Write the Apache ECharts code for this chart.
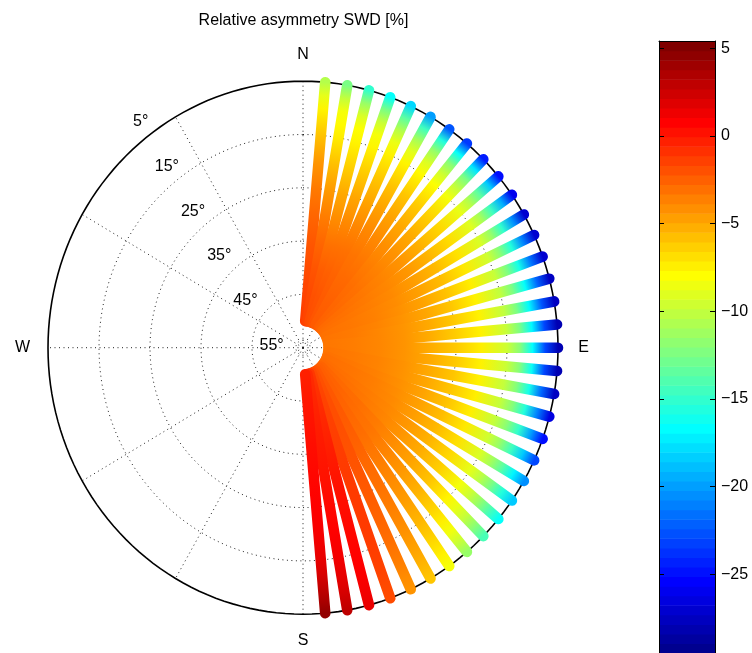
<!DOCTYPE html>
<html>
<head>
<meta charset="utf-8">
<script src="https://cdn.jsdelivr.net/npm/echarts@6/dist/echarts.min.js"></script>
<style>
html,body{margin:0;padding:0;background:#fff;}
#chart{width:752px;height:653px;}
</style>
</head>
<body>
<div id="chart"></div>
<script>
// ---------------- data ----------------
const AZIMUTHS = [5,10,15,20,25,30,35,40,45,50,55,60,65,70,75,80,85,90,95,100,105,110,115,120,125,130,135,140,145,150,155,160,165,170,175];
const ELEVATIONS = [5,7.5,10,12.5,15,20,25,30,35,40,45,50];
// one row per azimuth, one value per elevation (%)
const ASYMMETRY = [
  [-10.5,-8.8,-7.6,-6.7,-5.9,-4.4,-3.4,-2.7,-2.2,-1.8,-1.5,-1.3],
  [-12.5,-10.0,-8.3,-7.8,-7.3,-5.8,-4.5,-3.5,-2.7,-2.1,-1.7,-1.5],
  [-15.0,-11.5,-9.2,-8.0,-7.6,-6.3,-5.0,-4.0,-3.1,-2.4,-2.0,-1.8],
  [-16.5,-12.5,-9.8,-8.3,-7.6,-6.2,-4.9,-3.9,-3.1,-2.5,-2.1,-1.9],
  [-18.0,-13.5,-10.5,-8.6,-7.5,-6.0,-4.8,-3.8,-3.1,-2.6,-2.3,-2.1],
  [-20.0,-14.5,-11.0,-8.9,-7.6,-5.9,-4.7,-3.8,-3.2,-2.8,-2.5,-2.3],
  [-22.5,-15.5,-11.5,-9.2,-7.8,-6.0,-4.8,-3.9,-3.3,-2.8,-2.5,-2.3],
  [-23.5,-16.5,-12.0,-9.6,-8.0,-6.2,-5.0,-4.1,-3.5,-3.0,-2.7,-2.5],
  [-24.5,-17.5,-12.5,-10.0,-8.3,-6.4,-5.1,-4.2,-3.6,-3.1,-2.8,-2.6],
  [-25.0,-18.5,-13.5,-10.5,-8.7,-6.6,-5.3,-4.3,-3.7,-3.3,-3.0,-2.8],
  [-26.0,-19.5,-14.5,-11.0,-9.0,-6.8,-5.4,-4.4,-3.8,-3.4,-3.1,-2.9],
  [-27.0,-20.5,-15.0,-11.5,-9.3,-7.0,-5.6,-4.6,-3.9,-3.5,-3.2,-3.0],
  [-27.0,-21.0,-15.5,-12.0,-9.6,-7.2,-5.7,-4.7,-4.0,-3.6,-3.3,-3.1],
  [-27.0,-21.5,-16.0,-12.3,-9.9,-7.4,-5.9,-4.8,-4.1,-3.6,-3.3,-3.1],
  [-27.5,-22.0,-16.5,-12.5,-10.1,-7.5,-6.0,-4.9,-4.2,-3.7,-3.4,-3.2],
  [-27.5,-22.5,-16.8,-12.5,-10.1,-7.5,-6.1,-5.0,-4.3,-3.8,-3.4,-3.2],
  [-28.0,-23.0,-16.8,-12.3,-9.9,-7.5,-6.2,-5.1,-4.3,-3.8,-3.5,-3.3],
  [-28.0,-23.0,-16.6,-12.0,-9.7,-7.4,-6.1,-5.1,-4.3,-3.8,-3.5,-3.3],
  [-28.0,-23.0,-16.4,-12.0,-9.8,-7.5,-6.1,-5.0,-4.3,-3.8,-3.5,-3.3],
  [-27.5,-22.0,-16.0,-12.2,-10.0,-7.5,-6.0,-5.0,-4.2,-3.7,-3.4,-3.2],
  [-26.5,-21.0,-15.5,-12.1,-10.0,-7.4,-6.0,-4.9,-4.2,-3.7,-3.4,-3.2],
  [-25.0,-20.0,-15.0,-12.0,-10.0,-7.4,-5.9,-4.8,-4.1,-3.6,-3.3,-3.1],
  [-23.0,-18.5,-14.5,-11.5,-9.6,-7.2,-5.7,-4.7,-4.0,-3.5,-3.2,-3.0],
  [-20.5,-17.0,-13.5,-11.0,-9.2,-6.9,-5.5,-4.6,-3.9,-3.5,-3.2,-3.0],
  [-18.5,-15.5,-12.5,-10.3,-8.8,-6.6,-5.3,-4.4,-3.8,-3.4,-3.1,-2.9],
  [-16.5,-14.0,-11.5,-9.6,-8.3,-6.3,-5.1,-4.3,-3.7,-3.3,-3.0,-2.8],
  [-14.2,-12.0,-10.0,-8.7,-7.6,-5.9,-4.8,-4.0,-3.4,-3.0,-2.8,-2.6],
  [-11.5,-9.8,-8.4,-7.4,-6.6,-5.3,-4.4,-3.7,-3.2,-2.9,-2.6,-2.5],
  [-8.3,-7.5,-6.8,-6.1,-5.5,-4.6,-3.9,-3.4,-3.0,-2.7,-2.5,-2.4],
  [-6.0,-5.5,-5.0,-4.6,-4.2,-3.6,-3.1,-2.8,-2.5,-2.3,-2.2,-2.2],
  [-4.3,-4.0,-3.6,-3.3,-3.0,-2.6,-2.3,-2.1,-2.0,-1.9,-1.9,-2.0],
  [-1.8,-1.7,-1.5,-1.4,-1.3,-1.2,-1.2,-1.2,-1.3,-1.4,-1.5,-1.7],
  [1.5,1.2,1.0,0.8,0.7,0.5,0.3,0.1,-0.2,-0.5,-0.8,-1.1],
  [3.0,2.4,1.8,1.5,1.2,0.8,0.5,0.2,0.0,-0.2,-0.5,-0.7],
  [4.5,3.6,2.8,2.1,1.6,1.1,0.8,0.6,0.4,0.2,0.0,-0.3]
];
const COLORBAR_TICKS = [5,0,-5,-10,-15,-20,-25];
const RING_ELEVATIONS = [5,15,25,35,45,55];
const GRID_RINGS = [0.2,0.4,0.6,0.8];
const GRID_SPOKES = [0,30,60,90,120,150,180,210,240,270,300,330];
const COMPASS_LABELS = ['N','E','S','W'];
const COMPASS_AZIMUTHS = [0,90,180,270];
const TITLE = 'Relative asymmetry SWD [%]';
const CMIN = -29.5, CMAX = 5.42;
const EL_OUTER = 5, EL_CENTER = 55;

// ---------------- helpers ----------------
const FONT = '16px "Liberation Sans", Arial, Helvetica, sans-serif';
function clamp(v,a,b){return Math.max(a,Math.min(b,v));}
function rNorm(el){return (EL_CENTER-el)/(EL_CENTER-EL_OUTER);}
function toXY(az,r){const a=az*Math.PI/180;return [r*Math.sin(a), r*Math.cos(a)];}
// MATLAB jet(64) evaluated at (possibly fractional) index i in 1..64
function jetAt(i){
  const R = i<=56 ? clamp((i-24)/16,0,1) : clamp(1-(i-56)/16,0.5,1);
  const G = i<=40 ? clamp((i-8)/16,0,1) : clamp(1-(i-40)/16,0,1);
  const B = i<=8 ? clamp(0.5+i/16,0.5,1) : clamp(1-(i-24)/16,0,1);
  return 'rgb('+Math.round(R*255)+','+Math.round(G*255)+','+Math.round(B*255)+')';
}
function colorOf(v){
  const t=(v-CMIN)/(CMAX-CMIN);
  return jetAt(clamp(t*64+0.5,1,64));
}
function fmtTick(v){return v<0?'\u2212'+Math.abs(v):String(v);}

const dotted = {stroke:'#222', lineWidth:1, lineDash:[1,3.5], fill:null};

function ellipsePoints(api,r){
  const pts=[];
  for(let d=0; d<=360; d+=2){pts.push(api.coord(toXY(d,r)));}
  return pts;
}

const chart = echarts.init(document.getElementById('chart'), null, {renderer:'canvas'});
const option = {
  animation:false,
  backgroundColor:'#fff',
  graphic:[{
    type:'text', x:303.5, y:21, z:10,
    style:{text:TITLE, font:FONT, fill:'#000', textAlign:'center', textVerticalAlign:'middle'}
  }],
  grid:[
    {left:48, top:81.2, width:510, height:533, show:false},
    {left:659, top:41, width:56, height:(CMAX-CMIN)*17.533, show:false}
  ],
  xAxis:[
    {gridIndex:0, type:'value', min:-1, max:1, show:false},
    {gridIndex:1, type:'value', min:0, max:1, position:'top', z:5,
     axisLine:{show:true, onZero:false, lineStyle:{color:'#000', width:1}},
     axisTick:{show:false}, axisLabel:{show:false}, splitLine:{show:false}}
  ],
  yAxis:[
    {gridIndex:0, type:'value', min:-1, max:1, show:false},
    {gridIndex:1, type:'value', min:CMIN, max:CMAX, position:'right', z:5,
     axisLine:{show:true, onZero:false, lineStyle:{color:'#000', width:1}},
     axisTick:{show:true, inside:true, length:5, lineStyle:{color:'#000'}, customValues:COLORBAR_TICKS},
     axisLabel:{show:true, customValues:COLORBAR_TICKS, formatter:fmtTick, color:'#000',
       fontSize:16, fontFamily:'"Liberation Sans", Arial, sans-serif', margin:6},
     splitLine:{show:false}},
    {gridIndex:1, type:'value', min:CMIN, max:CMAX, position:'left', z:5,
     axisLine:{show:true, onZero:false, lineStyle:{color:'#000', width:1}},
     axisTick:{show:true, inside:true, length:5, lineStyle:{color:'#000'}, customValues:COLORBAR_TICKS},
     axisLabel:{show:false}, splitLine:{show:false}}
  ],
  series:[
    // dotted rings
    {type:'custom', xAxisIndex:0, yAxisIndex:0, z:1, silent:true, clip:false,
     data:GRID_RINGS.concat([0.028]).map(r=>[r]),
     renderItem:function(params,api){
       return {type:'polyline', shape:{points:ellipsePoints(api, api.value(0))}, style:dotted};
     }},
    // dotted spokes
    {type:'custom', xAxisIndex:0, yAxisIndex:0, z:1, silent:true, clip:false,
     data:GRID_SPOKES.map(a=>[a]),
     renderItem:function(params,api){
       const p0=api.coord([0,0]), p1=api.coord(toXY(api.value(0),1));
       return {type:'line', shape:{x1:p0[0],y1:p0[1],x2:p1[0],y2:p1[1]}, style:dotted};
     }},
    // outer circle
    {type:'custom', xAxisIndex:0, yAxisIndex:0, z:2, silent:true, clip:false,
     data:[[1]],
     renderItem:function(params,api){
       return {type:'polyline', shape:{points:ellipsePoints(api, api.value(0))},
               style:{stroke:'#000', lineWidth:1.6, fill:null}};
     }},
    // data spokes
    {type:'custom', xAxisIndex:0, yAxisIndex:0, z:3, silent:true, clip:false,
     data:AZIMUTHS.map((az,i)=>[az,i]),
     renderItem:function(params,api){
       const az=api.value(0), row=ASYMMETRY[api.value(1)];
       const rs=ELEVATIONS.map(rNorm);
       const rMin=Math.min.apply(null,rs), rMax=Math.max.apply(null,rs);
       const pIn=api.coord(toXY(az,rMin)), pOut=api.coord(toXY(az,rMax));
       const stops=ELEVATIONS.map((el,k)=>({offset:(rs[k]-rMin)/(rMax-rMin), color:colorOf(row[k])}))
         .sort((a,b)=>a.offset-b.offset);
       return {type:'line', shape:{x1:pIn[0],y1:pIn[1],x2:pOut[0],y2:pOut[1]},
         style:{stroke:{type:'linear', x:pIn[0], y:pIn[1], x2:pOut[0], y2:pOut[1], global:true, colorStops:stops},
                lineWidth:10.6, lineCap:'round'}};
     }},
    // compass labels
    {type:'custom', xAxisIndex:0, yAxisIndex:0, z:4, silent:true, clip:false,
     data:COMPASS_AZIMUTHS.map((a,i)=>[a,i]),
     renderItem:function(params,api){
       const p=api.coord(toXY(api.value(0),1.1));
       return {type:'text', x:p[0], y:p[1],
         style:{text:COMPASS_LABELS[api.value(1)], font:FONT, fill:'#000', align:'center', verticalAlign:'middle'}};
     }},
    // ring labels
    {type:'custom', xAxisIndex:0, yAxisIndex:0, z:4, silent:true, clip:false,
     data:RING_ELEVATIONS.map(e=>[e]),
     renderItem:function(params,api){
       const el=api.value(0), r=rNorm(el);
       const q=toXY(-31.5, r*0.983);
       const p=api.coord([q[0]-0.123, q[1]+0.0097]);
       return {type:'text', x:p[0], y:p[1],
         style:{text:el+'\u00b0', font:FONT, fill:'#000', align:'center', verticalAlign:'middle'}};
     }},
    // colorbar bands
    {type:'custom', xAxisIndex:1, yAxisIndex:1, z:2, silent:true, clip:false,
     data:Array.from({length:64},(_,k)=>[k]),
     renderItem:function(params,api){
       const k=api.value(0), d=(CMAX-CMIN)/64;
       const pTop=api.coord([0,CMIN+(k+1)*d]), pBot=api.coord([1,CMIN+k*d]);
       return {type:'rect', shape:{x:pTop[0], y:pTop[1], width:pBot[0]-pTop[0], height:pBot[1]-pTop[1]+0.6},
               style:{fill:jetAt(k+1)}};
     }}
  ]
};
chart.setOption(option);
</script>
</body>
</html>
